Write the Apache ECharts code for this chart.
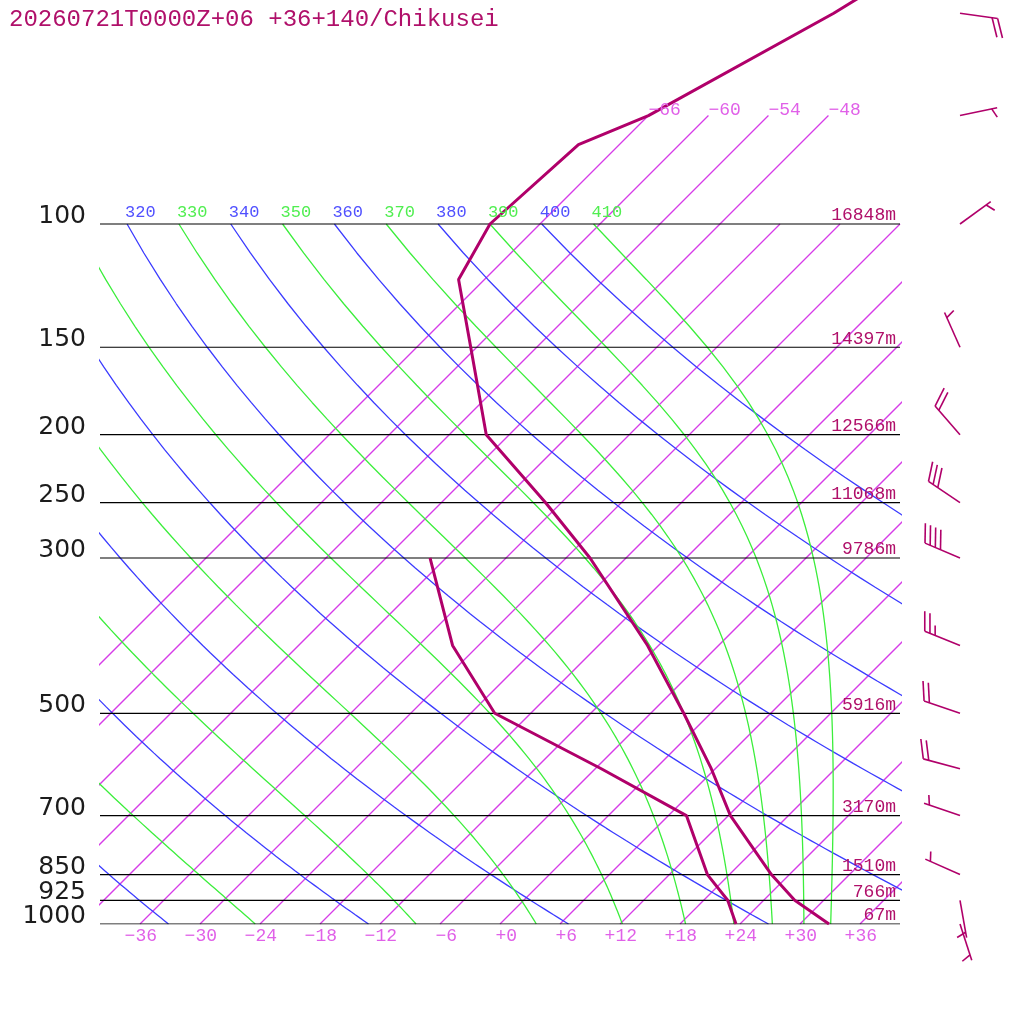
<!DOCTYPE html>
<html>
<head>
<meta charset="utf-8">
<script src="https://cdn.jsdelivr.net/npm/echarts@6/dist/echarts.min.js"></script>
<style>
html, body { margin: 0; padding: 0; background: #fff; }
#main { width: 1024px; height: 1024px; }
</style>
</head>
<body>
<div id="main"></div>
<script>
// sounding: temperature profile
var tempP = [1000, 925, 850, 700, 600, 500, 400, 300, 250, 200, 150, 120, 100, 77, 70, 50, 30];
var tempC = [32.9, 27.1, 22.2, 12.2, 5.6, -2.7, -13.1, -27.6, -37.6, -50.3, -60.6, -68.6, -71.0, -70.1, -66.0, -57.7, -48.0];
// dew point
var dewP = [1000, 925, 850, 700, 600, 500, 400, 300];
var dewC = [23.6, 20.4, 15.8, 7.8, -5.4, -21.6, -32.6, -43.6];
// standard levels and heights
var levelP = [100, 150, 200, 250, 300, 500, 700, 850, 925, 1000];
var levelZ = ['16848m', '14397m', '12566m', '11068m', '9786m', '5916m', '3170m', '1510m', '766m', '67m'];
// wind (direction from, knots)
var windP = [1000, 925, 850, 700, 600, 500, 400, 300, 250, 200, 150, 100, 70, 50];
var windDir = [162, 170, 294, 289, 285, 289, 292, 293, 304, 319, 336, 54, 78, 98];
var windKt = [5, 5, 5, 5, 20, 20, 25, 40, 30, 20, 5, 5, 5, 20];
// background line sets
var isoT = [-66, -60, -54, -48, -42, -36, -30, -24, -18, -12, -6, 0, 6, 12, 18, 24, 30, 36];
var isoTopLabels = [-66, -60, -54, -48];
var tickT = [-36, -30, -24, -18, -12, -6, 0, 6, 12, 18, 24, 30, 36];
var dryTheta = [240, 260, 280, 300, 320, 340, 360, 380, 400];
var moistTheta = [250, 270, 290, 310, 330, 350, 370, 390, 410];

var title = '20260721T0000Z+06 +36+140/Chikusei';

var SKEW = 70;          // deg C of shift per decade of pressure
var KAPPA = 287.04 / 1005.7;
var MONO = '"Liberation Mono", "DejaVu Sans Mono", monospace';

function lp(p) { return Math.log10(1000 / p); }
function sx(t, p) { return t + SKEW * lp(p); }

function lineData(ps, ts) {
  return ps.map(function (p, i) { return [sx(ts[i], p), lp(p)]; });
}

function dryLine(theta) {
  var pts = [];
  for (var p = 1000; p >= 100; p -= 10) {
    pts.push([sx(theta * Math.pow(p / 1000, KAPPA) - 273.15, p), lp(p)]);
  }
  return pts;
}

// pseudo-adiabat integrated down from 100 hPa
function moistLine(theta) {
  var Rd = 287.04, cp = 1005.7, Lv = 2.501e6, eps = 0.622;
  function rs(p, T) {
    var tc = T - 273.15;
    var es = 6.112 * Math.exp(17.67 * tc / (tc + 243.5));
    return eps * es / (p - es);
  }
  function f(p, T) {
    var r = rs(p, T);
    return (Rd * T + Lv * r) / (p * (cp + Lv * Lv * r * eps / (Rd * T * T)));
  }
  var T = theta * Math.pow(0.1, KAPPA);
  var p = 100, h = 2;
  var pts = [[sx(T - 273.15, p), lp(p)]];
  while (p < 1000) {
    var k1 = f(p, T);
    var k2 = f(p + h / 2, T + h / 2 * k1);
    var k3 = f(p + h / 2, T + h / 2 * k2);
    var k4 = f(p + h, T + h * k3);
    T += h / 6 * (k1 + 2 * k2 + 2 * k3 + k4);
    p += h;
    if (p % 10 === 0) pts.push([sx(T - 273.15, p), lp(p)]);
  }
  return pts;
}

var series = [];
function bg(data, color, width) {
  series.push({
    type: 'line', data: data, showSymbol: false, silent: true, clip: true,
    itemStyle: { color: color },
    lineStyle: { color: color, width: width || 1 }, z: 1
  });
}

isoT.forEach(function (t) {
  var top = t <= -48 ? 70 : 100;
  bg([[t, 0], [sx(t, top), lp(top)]], '#d63ce8', 1.3);
});
dryTheta.forEach(function (th) { bg(dryLine(th), '#3c3cff', 1.3); });
moistTheta.forEach(function (th) { bg(moistLine(th), '#3cee3c', 1.3); });
levelP.forEach(function (p) { bg([[-40, lp(p)], [40, lp(p)]], '#000', 1.2); });

series.push({
  type: 'line', data: lineData(dewP, dewC), showSymbol: false, clip: true,
  lineStyle: { color: '#b0006a', width: 3 }, z: 3
});
series.push({
  type: 'line', data: lineData(tempP, tempC), showSymbol: false, clip: true,
  lineStyle: { color: '#b0006a', width: 3 }, z: 3
});

// text labels
var texts = [];
function addText(v, text, opt) {
  texts.push({ v: v, text: text, dx: opt.dx || 0, dy: opt.dy || 0, align: opt.align,
    font: opt.font, fill: opt.fill });
}
levelP.forEach(function (p, i) {
  addText([-40, lp(p)], String(p), { dx: -14, dy: -7.5, align: 'right',
    font: '25px "DejaVu Sans"', fill: '#1c1c1c' });
  addText([40, lp(p)], levelZ[i], { dx: -4, dy: -8.5, align: 'right',
    font: '18px ' + MONO, fill: '#b0106a' });
});
tickT.forEach(function (t) {
  addText([t, 0], (t >= 0 ? '+' : '') + String(t).replace('-', '\u2212'),
    { dx: 17, dy: 12.5, align: 'right', font: '18px ' + MONO, fill: '#e060e8' });
});
isoTopLabels.forEach(function (t) {
  addText([sx(t, 70), lp(70)], String(t).replace('-', '\u2212'),
    { dx: 0, dy: -5, align: 'left', font: '18px ' + MONO, fill: '#e060e8' });
});
dryTheta.concat(moistTheta).sort().forEach(function (th) {
  var x = th * Math.pow(0.1, KAPPA) - 273.15 + SKEW;
  if (x < -40 || x > 40) return;
  var isDry = dryTheta.indexOf(th) >= 0;
  addText([x, 1], String(th), { dx: -2, dy: -11.5, align: 'left',
    font: '17px ' + MONO, fill: isDry ? '#5050ff' : '#50ee50' });
});

series.push({
  type: 'custom', coordinateSystem: 'cartesian2d', clip: false, silent: true, z: 5,
  data: texts.map(function (t) { return t.v; }),
  renderItem: function (params, api) {
    var t = texts[params.dataIndex];
    var c = api.coord([api.value(0), api.value(1)]);
    return {
      type: 'text',
      style: { text: t.text, x: c[0] + t.dx, y: c[1] + t.dy, fill: t.fill, font: t.font,
        align: t.align, verticalAlign: 'middle' }
    };
  }
});

// wind barbs, column at skewed x = 46
series.push({
  type: 'custom', coordinateSystem: 'cartesian2d', clip: false, silent: true, z: 5,
  data: windP.map(function (p) { return [46, lp(p)]; }),
  renderItem: function (params, api) {
    var i = params.dataIndex;
    var b = api.coord([api.value(0), api.value(1)]);
    var th = windDir[i] * Math.PI / 180;
    var ux = Math.sin(th), uy = -Math.cos(th);
    var len = 38, gap = 5.6, a = 68 * Math.PI / 180;
    var bx = ux * Math.cos(a) - uy * Math.sin(a);
    var by = ux * Math.sin(a) + uy * Math.cos(a);
    var tip = [b[0] + ux * len, b[1] + uy * len];
    var st = { stroke: '#b0006a', lineWidth: 1.6 };
    var kids = [{ type: 'line', shape: { x1: b[0], y1: b[1], x2: tip[0], y2: tip[1] }, style: st }];
    var full = Math.floor(windKt[i] / 10);
    var half = windKt[i] % 10 >= 5;
    var pos = 0;
    function barb(d, l) {
      var px = tip[0] - ux * d, py = tip[1] - uy * d;
      kids.push({ type: 'line', shape: { x1: px, y1: py, x2: px + bx * l, y2: py + by * l }, style: st });
    }
    for (var k = 0; k < full; k++) { barb(pos, 20); pos += gap; }
    if (half) { if (full === 0) pos = gap; barb(pos, 10); }
    return { type: 'group', children: kids };
  }
});

var chart = echarts.init(document.getElementById('main'));
chart.setOption({
  animation: false,
  backgroundColor: '#fff',
  title: {
    text: title, left: 4, top: 3,
    textStyle: { fontFamily: MONO, fontSize: 24, fontWeight: 'normal', color: '#b0106a' }
  },
  grid: { left: 100, right: 124, top: 0, bottom: 100 },
  xAxis: { type: 'value', min: -40, max: 40, show: false },
  yAxis: { type: 'value', min: 0, max: 1.32, show: false },
  series: series
});
</script>
</body>
</html>
